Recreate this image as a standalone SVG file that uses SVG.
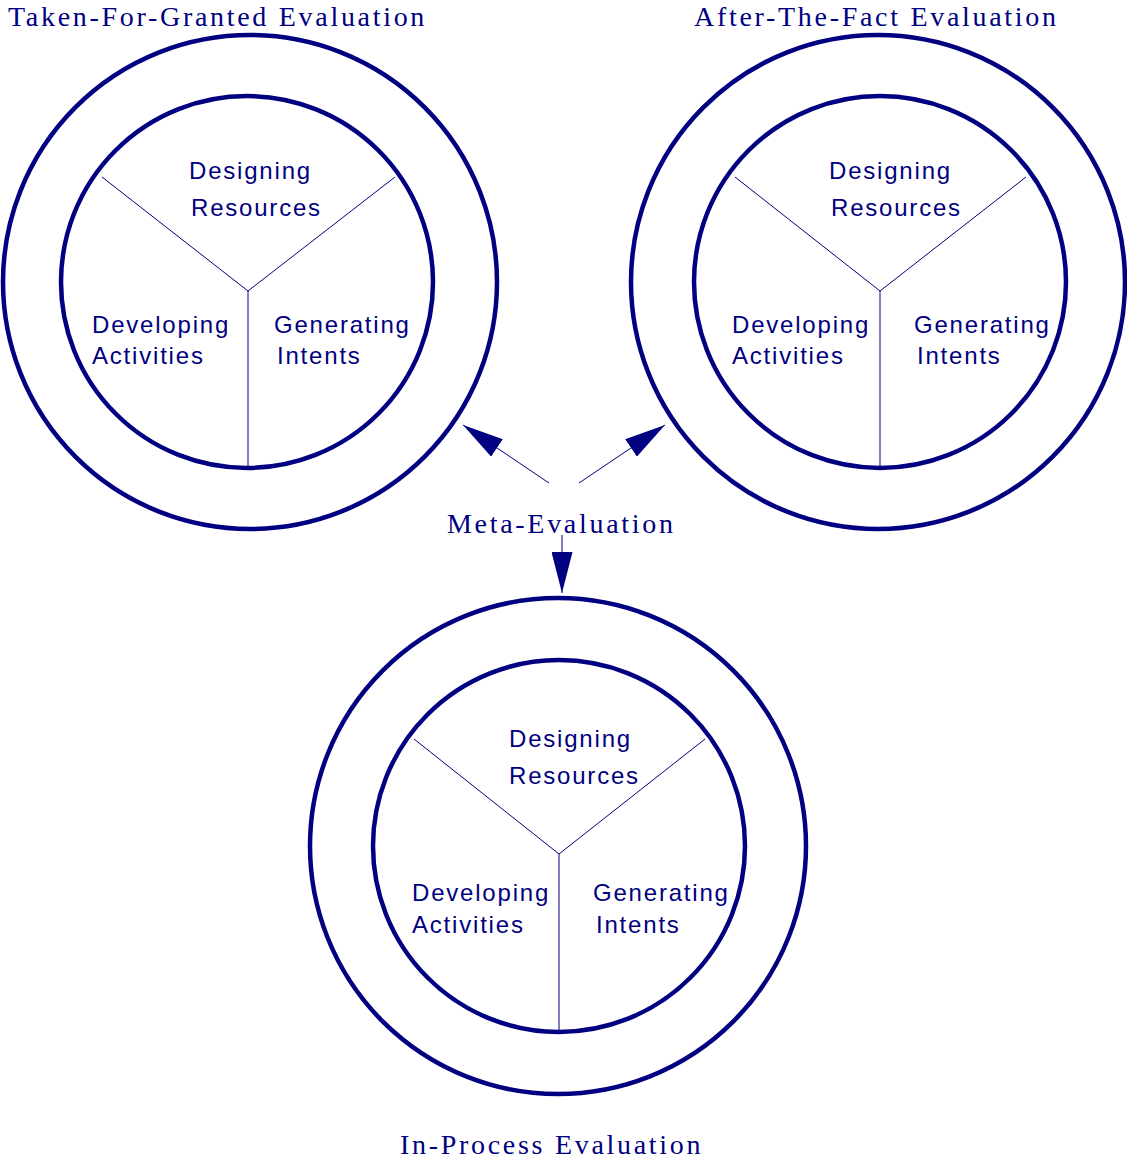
<svg xmlns="http://www.w3.org/2000/svg" width="1127" height="1163" viewBox="0 0 1127 1163">
<defs>
<style>
.bg{fill:#ffffff}
.ring{fill:none;stroke:#000080;stroke-width:4.5}
.spoke{fill:none;stroke:#000080;stroke-width:1}
.lbl{font-family:"Liberation Sans",Arial,sans-serif;font-size:24px;letter-spacing:1.8px;fill:#000080}
.ttl{font-family:"Liberation Serif","Times New Roman",serif;font-size:28px;letter-spacing:2.7px;fill:#000080}
.conn{fill:none;stroke:#000080;stroke-width:1}
</style>
<marker id="ah" markerUnits="userSpaceOnUse" markerWidth="41" markerHeight="21" refX="41" refY="10.5" orient="auto">
<path d="M0,0 L41,10.5 L0,21 Z" fill="#000080"/>
</marker>
</defs>
<rect class="bg" x="0" y="0" width="1127" height="1163"/>

<g id="taken-for-granted">
<circle class="ring" cx="250" cy="282" r="247"/>
<circle class="ring" cx="247" cy="282" r="186"/>
<path class="spoke" d="M248,291 L102,177 M248,291 L395,177 M248,291 L248,467"/>
<text class="lbl" x="189" y="179">Designing</text>
<text class="lbl" x="191" y="216">Resources</text>
<text class="lbl" x="92" y="333">Developing</text>
<text class="lbl" x="92" y="364">Activities</text>
<text class="lbl" x="274" y="333">Generating</text>
<text class="lbl" x="277" y="364">Intents</text>
<text class="ttl" x="8" y="26">Taken-For-Granted Evaluation</text>
</g>

<g id="after-the-fact">
<circle class="ring" cx="878" cy="282" r="247"/>
<circle class="ring" cx="880" cy="282" r="186"/>
<path class="spoke" d="M880,291 L735,177 M880,291 L1026,177 M880,291 L880,467"/>
<text class="lbl" x="829" y="179">Designing</text>
<text class="lbl" x="831" y="216">Resources</text>
<text class="lbl" x="732" y="333">Developing</text>
<text class="lbl" x="732" y="364">Activities</text>
<text class="lbl" x="914" y="333">Generating</text>
<text class="lbl" x="917" y="364">Intents</text>
<text class="ttl" x="694" y="26">After-The-Fact Evaluation</text>
</g>

<g id="in-process">
<circle class="ring" cx="558" cy="846" r="248"/>
<circle class="ring" cx="559" cy="846" r="186"/>
<path class="spoke" d="M559,854 L414,739 M559,854 L705,739 M559,854 L559,1031"/>
<text class="lbl" x="509" y="747">Designing</text>
<text class="lbl" x="509" y="784">Resources</text>
<text class="lbl" x="412" y="901">Developing</text>
<text class="lbl" x="412" y="933">Activities</text>
<text class="lbl" x="593" y="901">Generating</text>
<text class="lbl" x="596" y="933">Intents</text>
<text class="ttl" x="400" y="1154">In-Process Evaluation</text>
</g>

<g id="meta-evaluation">
<text class="ttl" x="447" y="533">Meta-Evaluation</text>
</g>

<g id="connectors">
<line class="conn" x1="549" y1="483" x2="463" y2="425" marker-end="url(#ah)"/>
<line class="conn" x1="579" y1="483" x2="665" y2="425" marker-end="url(#ah)"/>
<line class="conn" x1="562" y1="535" x2="562" y2="593" marker-end="url(#ah)"/>
</g>
</svg>
